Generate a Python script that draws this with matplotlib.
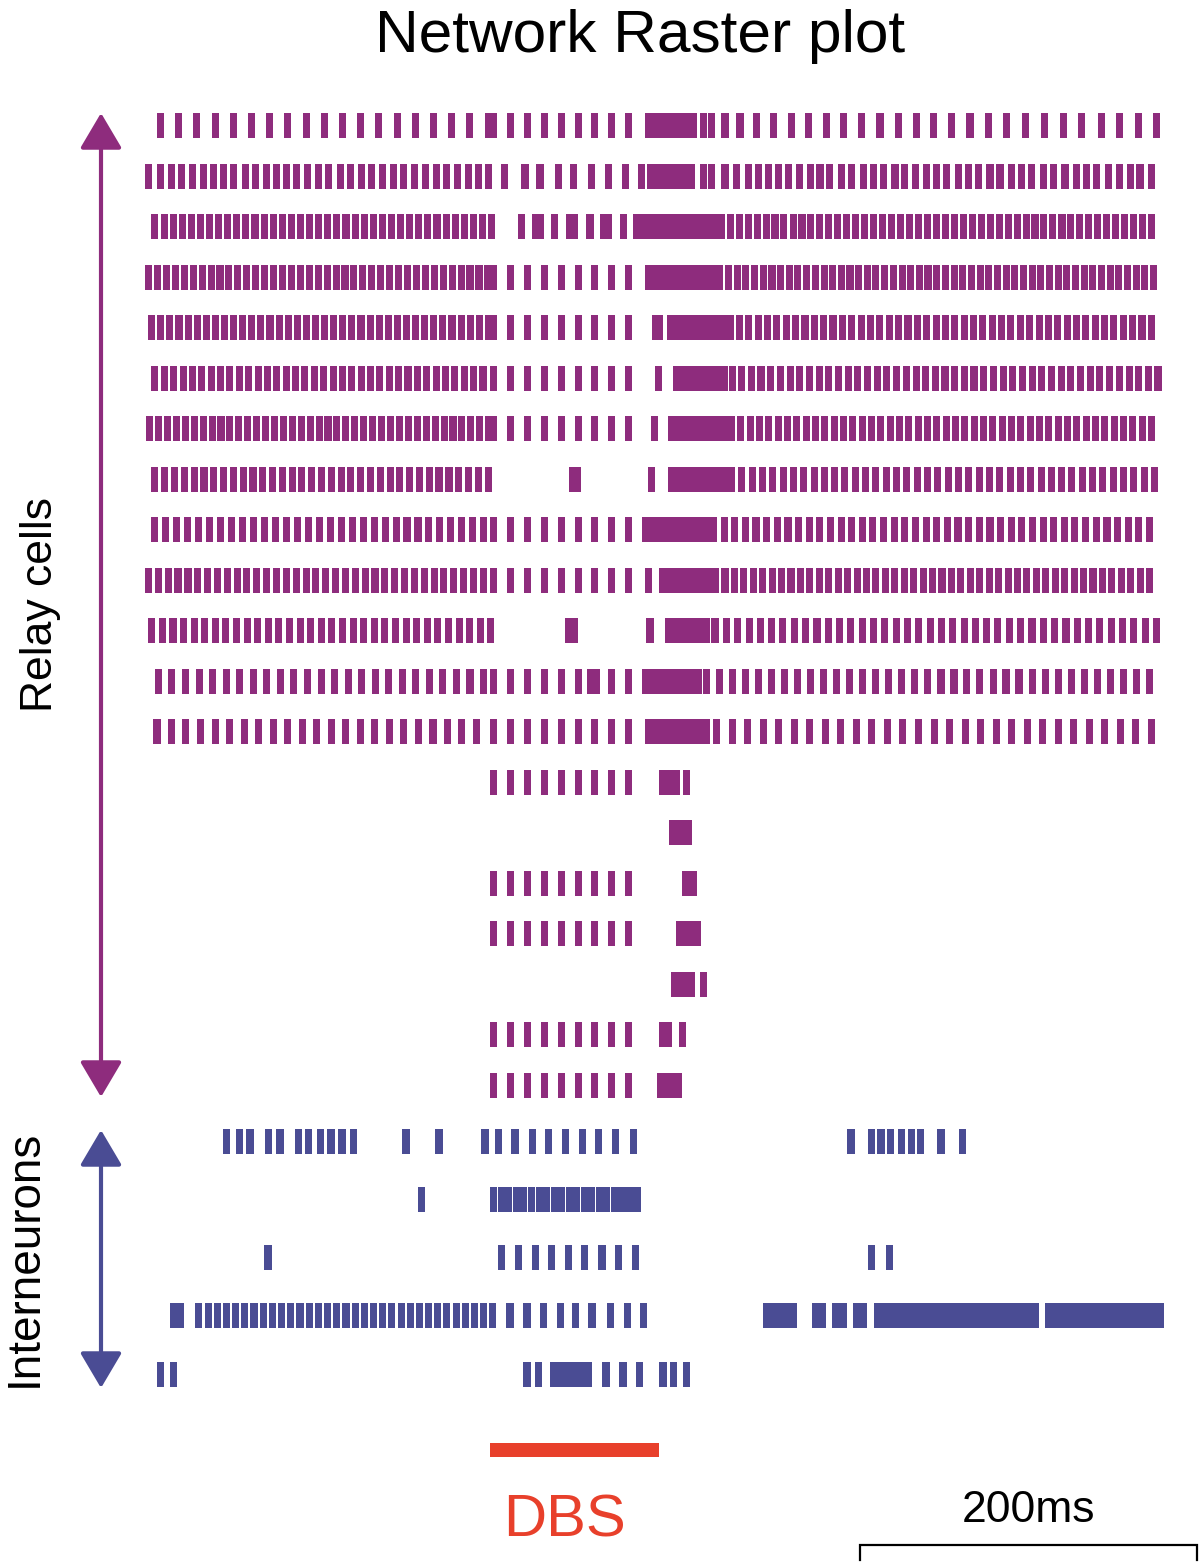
import matplotlib.pyplot as plt
from matplotlib.patches import FancyArrowPatch

# spike times in ms (t = 0 at the left edge of the raster)
# bursts are (start, end) in ms where the ticks merge into a solid block

dbs_pulses = [207, 217, 227, 237, 247, 257, 267, 277, 287]
dbs_on, dbs_off = 205, 305
scale_ms = 200

relay01 = [9.2, 20.0, 30.8, 41.6, 52.4, 63.2, 74.0, 84.8, 95.6, 106.4, 117.2, 128.0, 138.8,
           149.6, 160.4, 171.2, 182.0, 192.8, 203.6] + dbs_pulses + \
          [331.5, 336.2, 344.2, 353.1, 362.9, 372.8, 383.7, 393.6, 404.5, 414.4, 425.2, 436.2,
           447.0, 457.9, 467.8, 478.6, 489.6, 500.5, 511.3, 522.3, 534.1, 545.0, 555.8, 567.7,
           578.6, 589.5, 600.3]
relay01_bursts = [(296.7, 327.6)]

relay02 = [2.1, 9.0, 15.5, 21.8, 28.4, 34.7, 40.7, 46.6, 52.5, 59.5, 65.4, 72.3, 78.2, 84.2,
           90.1, 96.4, 103.0, 108.9, 115.8, 121.8, 128.7, 134.6, 141.1, 147.5, 153.4, 159.8,
           166.3, 173.2, 179.1, 185.5, 192.0, 197.9, 203.9,
           213.6, 225.5, 234.4, 245.3, 254.2, 265.1, 275.0, 284.9, 294.8,
           331.3, 336.3, 344.2, 351.1, 358.0, 364.0, 369.9, 375.8, 381.8, 388.7, 394.7, 400.6,
           406.5, 413.4, 419.3, 426.3, 432.2, 438.2, 445.1, 451.0, 457.0, 463.9, 469.8, 475.7,
           482.7, 488.6, 494.5, 501.5, 507.4, 514.3, 520.2, 526.2, 533.1, 539.1, 546.0, 552.9,
           558.8, 564.7, 571.7, 578.6, 584.6, 590.5, 597.4]
relay02_bursts = [(297.7, 326.4)]

relay03 = [5.9, 11.3, 16.7, 22.1, 27.5, 32.9, 38.3, 43.7, 49.1, 54.5, 59.9, 65.3, 70.7, 76.1,
           81.5, 86.9, 92.3, 97.7, 103.1, 108.5, 113.9, 119.3, 124.7, 130.1, 135.5, 140.9,
           146.3, 151.7, 157.1, 162.5, 167.9, 173.3, 178.7, 184.1, 189.5, 194.9, 200.3, 205.7,
           223.4, 231.5, 234.4, 243.3, 251.9, 254.9, 264.1, 272.1, 275.1, 284.0,
           342.0, 347.3, 352.6, 357.9, 363.3, 368.6, 373.9, 379.2, 384.6, 389.9, 395.2, 400.5,
           405.8, 411.2, 416.5, 421.8, 427.1, 432.4, 437.8, 443.1, 448.4, 453.7, 459.0, 464.4,
           469.7, 475.0, 480.3, 485.6, 491.0, 496.3, 501.6, 506.9, 512.2, 517.6, 522.9, 528.2,
           533.5, 538.8, 544.2, 549.5, 554.8, 560.1, 565.4, 570.8, 576.1, 581.4, 586.7, 592.0,
           597.4]
relay03_bursts = [(289.6, 340.1)]

relay04 = [2.1, 7.4, 12.7, 18.0, 23.3, 28.6, 33.9, 39.2, 44.5, 49.8, 55.1, 60.4, 65.7, 71.0,
           76.3, 81.6, 86.9, 92.2, 97.5, 102.8, 108.1, 113.4, 118.7, 124.0, 129.3, 134.6,
           139.9, 145.2, 150.5, 155.8, 161.1, 166.4, 171.7, 177.0, 182.3, 187.6, 192.9, 198.2,
           203.5] + dbs_pulses + \
          [341.2, 346.3, 351.5, 356.6, 361.8, 366.9, 372.1, 377.2, 382.4, 387.5, 392.7, 397.8,
           403.0, 408.1, 413.2, 418.4, 423.5, 428.7, 433.8, 439.0, 444.1, 449.3, 454.4, 459.6,
           464.7, 469.9, 475.0, 480.2, 485.3, 490.5, 495.6, 500.8, 505.9, 511.1, 516.2, 521.4,
           526.5, 531.6, 536.8, 541.9, 547.1, 552.2, 557.4, 562.5, 567.7, 572.8, 578.0, 583.1,
           588.3, 593.4, 598.5]
relay04_bursts = [(296.7, 339.3)]

relay05 = [4.0, 9.4, 14.8, 20.2, 25.6, 31.0, 36.4, 41.8, 47.2, 52.6, 58.0, 63.4, 68.8, 74.2,
           79.6, 85.0, 90.4, 95.8, 101.2, 106.6, 112.0, 117.4, 122.8, 128.2, 133.6, 139.0,
           144.4, 149.8, 155.2, 160.6, 166.0, 171.4, 176.8, 182.2, 187.6, 193.0, 198.4,
           203.8] + dbs_pulses + \
          [302.9, 305.3,
           347.2, 352.8, 358.3, 363.9, 369.4, 375.0, 380.5, 386.1, 391.7, 397.2, 402.8, 408.3,
           413.9, 419.4, 425.0, 430.6, 436.1, 441.7, 447.2, 452.8, 458.3, 463.9, 469.5, 475.0,
           480.6, 486.1, 491.7, 497.2, 502.8, 508.4, 513.9, 519.5, 525.0, 530.6, 536.1, 541.7,
           547.3, 552.8, 558.4, 563.9, 569.5, 575.0, 580.6, 586.2, 591.7, 597.3]
relay05_bursts = [(309.6, 345.2)]

relay06 = [5.9, 11.5, 17.0, 22.6, 28.2, 33.7, 39.3, 44.8, 50.4, 56.0, 61.5, 67.1, 72.7, 78.2,
           83.8, 89.3, 94.9, 100.5, 106.0, 111.6, 117.2, 122.7, 128.3, 133.8, 139.4, 145.0,
           150.5, 156.1, 161.7, 167.2, 172.8, 178.3, 183.9, 189.5, 195.0, 200.6] + dbs_pulses + \
          [304.7,
           348.4, 354.1, 359.9, 365.6, 371.4, 377.1, 382.9, 388.6, 394.4, 400.1, 405.9, 411.6,
           417.3, 423.1, 428.8, 434.6, 440.3, 446.1, 451.8, 457.6, 463.3, 469.1, 474.8, 480.6,
           486.3, 492.0, 497.8, 503.5, 509.3, 515.0, 520.8, 526.5, 532.3, 538.0, 543.8, 549.5,
           555.3, 561.0, 566.7, 572.5, 578.2, 584.0, 589.7, 595.5, 601.2]
relay06_bursts = [(313.4, 346.0)]

relay07 = [2.7, 8.0, 13.3, 18.6, 23.9, 29.2, 34.5, 39.8, 45.1, 50.4, 55.7, 60.9, 66.2, 71.5,
           76.8, 82.1, 87.4, 92.7, 98.0, 103.3, 108.6, 113.9, 119.2, 124.5, 129.8, 135.1,
           140.4, 145.7, 151.0, 156.3, 161.6, 166.9, 172.2, 177.5, 182.8, 188.1, 193.4, 198.6,
           203.9] + dbs_pulses + \
          [302.1,
           348.1, 353.6, 359.2, 364.7, 370.3, 375.8, 381.3, 386.9, 392.4, 397.9, 403.5, 409.0,
           414.6, 420.1, 425.6, 431.2, 436.7, 442.3, 447.8, 453.3, 458.9, 464.4, 469.9, 475.5,
           481.0, 486.6, 492.1, 497.6, 503.2, 508.7, 514.2, 519.8, 525.3, 530.9, 536.4, 541.9,
           547.5, 553.0, 558.6, 564.1, 569.6, 575.2, 580.7, 586.2, 591.8, 597.3]
relay07_bursts = [(310.4, 346.0)]

relay08 = [5.9, 11.7, 17.5, 23.3, 29.2, 35.0, 40.8, 46.6, 52.4, 58.2, 64.1, 69.9, 75.7, 81.5,
           87.3, 93.1, 98.9, 104.8, 110.6, 116.4, 122.2, 128.0, 133.8, 139.6, 145.5, 151.3,
           157.1, 162.9, 168.7, 174.5, 180.4, 186.2, 192.0, 197.8, 203.6,
           253.6, 256.7, 300.6,
           348.1, 354.2, 360.3, 366.5, 372.6, 378.7, 384.8, 390.9, 397.1, 403.2, 409.3, 415.4,
           421.6, 427.7, 433.8, 439.9, 446.1, 452.2, 458.3, 464.4, 470.5, 476.7, 482.8, 488.9,
           495.0, 501.2, 507.3, 513.4, 519.5, 525.6, 531.8, 537.9, 544.0, 550.1, 556.3, 562.4,
           568.5, 574.6, 580.8, 586.9, 593.0, 599.1]
relay08_bursts = [(310.4, 346.0)]

relay09 = [5.9, 12.4, 18.9, 25.4, 31.9, 38.4, 44.9, 51.4, 57.9, 64.4, 70.9, 77.4, 83.9, 90.4,
           96.9, 103.4, 109.9, 116.5, 123.0, 129.5, 136.0, 142.5, 149.0, 155.5, 162.0, 168.5,
           175.0, 181.5, 188.0, 194.5, 201.0] + dbs_pulses + \
          [337.4, 343.7, 350.0, 356.3, 362.6, 368.9, 375.3, 381.6, 387.9, 394.2, 400.5, 406.8,
           413.1, 419.4, 425.7, 432.0, 438.4, 444.7, 451.0, 457.3, 463.6, 469.9, 476.2, 482.5,
           488.8, 495.1, 501.5, 507.8, 514.1, 520.4, 526.7, 533.0, 539.3, 545.6, 551.9, 558.2,
           564.6, 570.9, 577.2, 583.5, 589.8, 596.1]
relay09_bursts = [(294.8, 335.3)]

relay10 = [2.1, 7.9, 13.8, 19.6, 25.5, 31.3, 37.2, 43.0, 48.8, 54.7, 60.5, 66.4, 72.2, 78.1,
           83.9, 89.8, 95.6, 101.4, 107.3, 113.1, 119.0, 124.8, 130.7, 136.5, 142.4, 148.2,
           154.0, 159.9, 165.7, 171.6, 177.4, 183.3, 189.1, 195.0, 200.8] + dbs_pulses + \
          [298.8,
           338.6, 344.2, 349.8, 355.4, 361.0, 366.6, 372.2, 377.8, 383.4, 389.0, 394.6, 400.2,
           405.8, 411.4, 417.0, 422.6, 428.2, 433.8, 439.4, 445.0, 450.6, 456.2, 461.8, 467.4,
           473.0, 478.6, 484.2, 489.8, 495.4, 501.0, 506.6, 512.2, 517.8, 523.4, 529.0, 534.6,
           540.2, 545.8, 551.4, 557.0, 562.6, 568.2, 573.8, 579.4, 585.0, 590.6, 596.1]
relay10_bursts = [(305.0, 336.5)]

relay11 = [4.0, 10.3, 16.6, 22.9, 29.2, 35.5, 41.7, 48.0, 54.3, 60.6, 66.9, 73.2, 79.5, 85.8,
           92.1, 98.4, 104.6, 110.9, 117.2, 123.5, 129.8, 136.1, 142.4, 148.7, 155.0, 161.3,
           167.5, 173.8, 180.1, 186.4, 192.7, 199.0, 205.3,
           251.6, 254.6, 299.7,
           338.3, 345.0, 351.7, 358.5, 365.2, 371.9, 378.6, 385.3, 392.0, 398.8, 405.5, 412.2,
           418.9, 425.6, 432.4, 439.1, 445.8, 452.5, 459.2, 465.9, 472.7, 479.4, 486.1, 492.8,
           499.5, 506.2, 513.0, 519.7, 526.4, 533.1, 539.8, 546.6, 553.3, 560.0, 566.7, 573.4,
           580.1, 586.9, 593.6, 600.3]
relay11_bursts = [(308.6, 335.3)]

relay12 = [8.0, 16.0, 24.1, 32.1, 40.2, 48.2, 56.2, 64.3, 72.3, 80.4, 88.4, 96.4, 104.5,
           112.5, 120.6, 128.6, 136.6, 144.7, 152.7, 160.8, 168.8, 176.8, 184.9, 192.9, 200.9,
           207, 217, 227, 237, 247, 257, 264.5, 268.0, 277, 287,
           333.2, 340.9, 348.7, 356.4, 364.1, 371.9, 379.6, 387.3, 395.1, 402.8, 410.5, 418.2,
           426.0, 433.7, 441.4, 449.2, 456.9, 464.6, 472.4, 480.1, 487.8, 495.5, 503.3, 511.0,
           518.7, 526.5, 534.2, 541.9, 549.7, 557.4, 565.1, 572.8, 580.6, 588.3, 596.1]
relay12_bursts = [(295.1, 330.4)]

relay13 = [7.1, 15.7, 24.3, 32.9, 41.6, 50.2, 58.8, 67.4, 76.1, 84.7, 93.3, 101.9, 110.5,
           119.2, 127.8, 136.4, 145.0, 153.6, 162.3, 170.9, 179.5, 188.1, 196.7] + dbs_pulses + \
          [339.2, 348.4, 357.6, 366.8, 376.1, 385.3, 394.5, 403.7, 412.9, 422.2, 431.4, 440.6,
           449.8, 459.0, 468.3, 477.5, 486.7, 495.9, 505.1, 514.4, 523.6, 532.8, 542.0, 551.2,
           560.5, 569.7, 578.9, 588.1, 597.3]
relay13_bursts = [(296.7, 335.3)]

relay14 = dbs_pulses + [321.4]
relay14_bursts = [(305.0, 317.5)]
relay15 = []
relay15_bursts = [(311.0, 324.6)]
relay16 = dbs_pulses
relay16_bursts = [(318.7, 327.6)]
relay17 = dbs_pulses
relay17_bursts = [(315.1, 330.0)]
relay18 = [331.5]
relay18_bursts = [(312.2, 326.4)]
relay19 = dbs_pulses + [319.0]
relay19_bursts = [(305.0, 312.8)]
relay20 = dbs_pulses
relay20_bursts = [(303.9, 318.7)]

inter1 = [48.1, 55.9, 62.3, 73.3, 80.1, 91.1, 97.3, 103.9, 110.4, 116.9, 123.7, 154.9, 174.5,
          201.8, 209.8, 219.6, 229.7, 239.5, 249.3, 259.4, 269.1, 279.5, 289.9,
          419.0, 430.9, 436.8, 442.7, 449.0, 454.9, 460.5, 472.4, 484.9]
inter1_bursts = []
inter2 = [164.2, 207.0, 211.5, 216.0, 220.4, 224.9, 229.4, 233.9, 238.3, 242.8, 247.3, 251.7,
          256.2, 260.7, 265.2, 269.6, 274.1, 278.6, 283.1, 287.5, 292.0]
inter2_bursts = []
inter3 = [73.0, 211.7, 221.8, 231.7, 241.5, 251.5, 261.1, 271.2, 281.1, 291.0, 431.2, 442.1]
inter3_bursts = []
inter4 = [32.0, 37.5, 42.9, 48.4, 53.8, 59.3, 64.7, 70.2, 75.6, 81.1, 86.5, 92.0, 97.4, 102.9,
          108.3, 113.8, 119.3, 124.7, 130.2, 135.6, 141.1, 146.5, 152.0, 157.4, 162.9, 168.3,
          173.8, 179.2, 184.7, 190.1, 195.6, 201.0, 206.5,
          216.6, 226.7, 236.6, 246.5, 255.6, 265.3, 276.0, 286.1, 295.7, 422.0, 426.1]
# the long late blocks are split where faint seams show in the figure
inter4_bursts = [(14.8, 23.3), (366.8, 386.9), (395.8, 404.1), (407.9, 416.6),
                 (432.6, 449.3), (449.3, 466.3), (466.3, 479.6), (479.6, 496.3),
                 (496.3, 512.5), (512.5, 517.8), (517.8, 530.6),
                 (534.4, 543.6), (543.6, 549.9), (549.9, 567.4), (567.4, 572.7),
                 (572.7, 595.6), (595.6, 604.7)]
inter5 = [9.1, 17.0, 226.7, 233.5, 273.6, 283.7, 293.5, 307.4, 313.9, 321.4]
inter5_bursts = [(240.4, 249.0), (249.0, 255.0), (255.0, 260.9), (260.9, 265.1)]

relay_rows = [
    (relay01, relay01_bursts), (relay02, relay02_bursts), (relay03, relay03_bursts),
    (relay04, relay04_bursts), (relay05, relay05_bursts), (relay06, relay06_bursts),
    (relay07, relay07_bursts), (relay08, relay08_bursts), (relay09, relay09_bursts),
    (relay10, relay10_bursts), (relay11, relay11_bursts), (relay12, relay12_bursts),
    (relay13, relay13_bursts), (relay14, relay14_bursts), (relay15, relay15_bursts),
    (relay16, relay16_bursts), (relay17, relay17_bursts), (relay18, relay18_bursts),
    (relay19, relay19_bursts), (relay20, relay20_bursts),
]
inter_rows = [(inter1, inter1_bursts), (inter2, inter2_bursts), (inter3, inter3_bursts),
              (inter4, inter4_bursts), (inter5, inter5_bursts)]

# colours
relay_color = "#8E2C7D"
inter_color = "#4A4C94"
dbs_color = "#E8402B"

# layout, in pixels of the 1200x1562 picture
W, H = 1200, 1562
px_per_ms = 1.685
x0_px = 145
spike_w = 4.2          # ms
tick_h = 25
relay_y0, relay_dy = 125.5, 50.5
inter_y0, inter_dy = 1141, 58.3


def px2ms(px):
    return (px - x0_px) / px_per_ms


plt.rcParams["font.family"] = ["Liberation Sans", "DejaVu Sans"]

fig = plt.figure(figsize=(W / 100, H / 100), dpi=100)
ax = fig.add_axes([0, 0, 1, 1])
ax.set_xlim(px2ms(0), px2ms(W))
ax.set_ylim(H, 0)
ax.axis("off")


def draw_row(spikes, bursts, y, color):
    xr = [(t - spike_w / 2, spike_w) for t in spikes] + [(a, b - a) for a, b in bursts]
    if xr:
        ax.broken_barh(xr, (y - tick_h / 2, tick_h), facecolors=color, edgecolor="none")


for i, (sp, bu) in enumerate(relay_rows):
    draw_row(sp, bu, relay_y0 + i * relay_dy, relay_color)
for i, (sp, bu) in enumerate(inter_rows):
    draw_row(sp, bu, inter_y0 + i * inter_dy, inter_color)

# double-headed arrows on the left
arrow_x = px2ms(101)
for (y_top, y_bot, col) in [(113, 1097, relay_color), (1130, 1388, inter_color)]:
    ax.add_patch(FancyArrowPatch((arrow_x, y_top), (arrow_x, y_bot),
                                 arrowstyle="<|-|>,head_length=1.1,head_width=0.65",
                                 mutation_scale=20, lw=3, color=col,
                                 shrinkA=0, shrinkB=0))

ax.text(px2ms(40), 605, "Relay cells", rotation=90, ha="center", va="center", fontsize=32)
ax.text(px2ms(25), 1258, "Interneurons", rotation=90, ha="center", va="center", fontsize=33)
ax.text(px2ms(640), 37, "Network Raster plot", ha="center", va="center", fontsize=43.5)

# DBS bar
ax.broken_barh([(dbs_on, dbs_off - dbs_on)], (1443, 14), facecolors=dbs_color)
ax.text((dbs_on + dbs_off) / 2 - 6, 1521, "DBS", ha="center", va="center",
        fontsize=43, color=dbs_color)

# 200 ms scale bar
sb_start = px2ms(860)
ax.plot([sb_start, sb_start, sb_start + scale_ms, sb_start + scale_ms],
        [1560, 1545, 1545, 1560], color="black", lw=1.6, solid_joinstyle="miter")
ax.text(sb_start + scale_ms / 2, 1510, "200ms", ha="center", va="center", fontsize=32)

fig.savefig("out.png", dpi=100)
